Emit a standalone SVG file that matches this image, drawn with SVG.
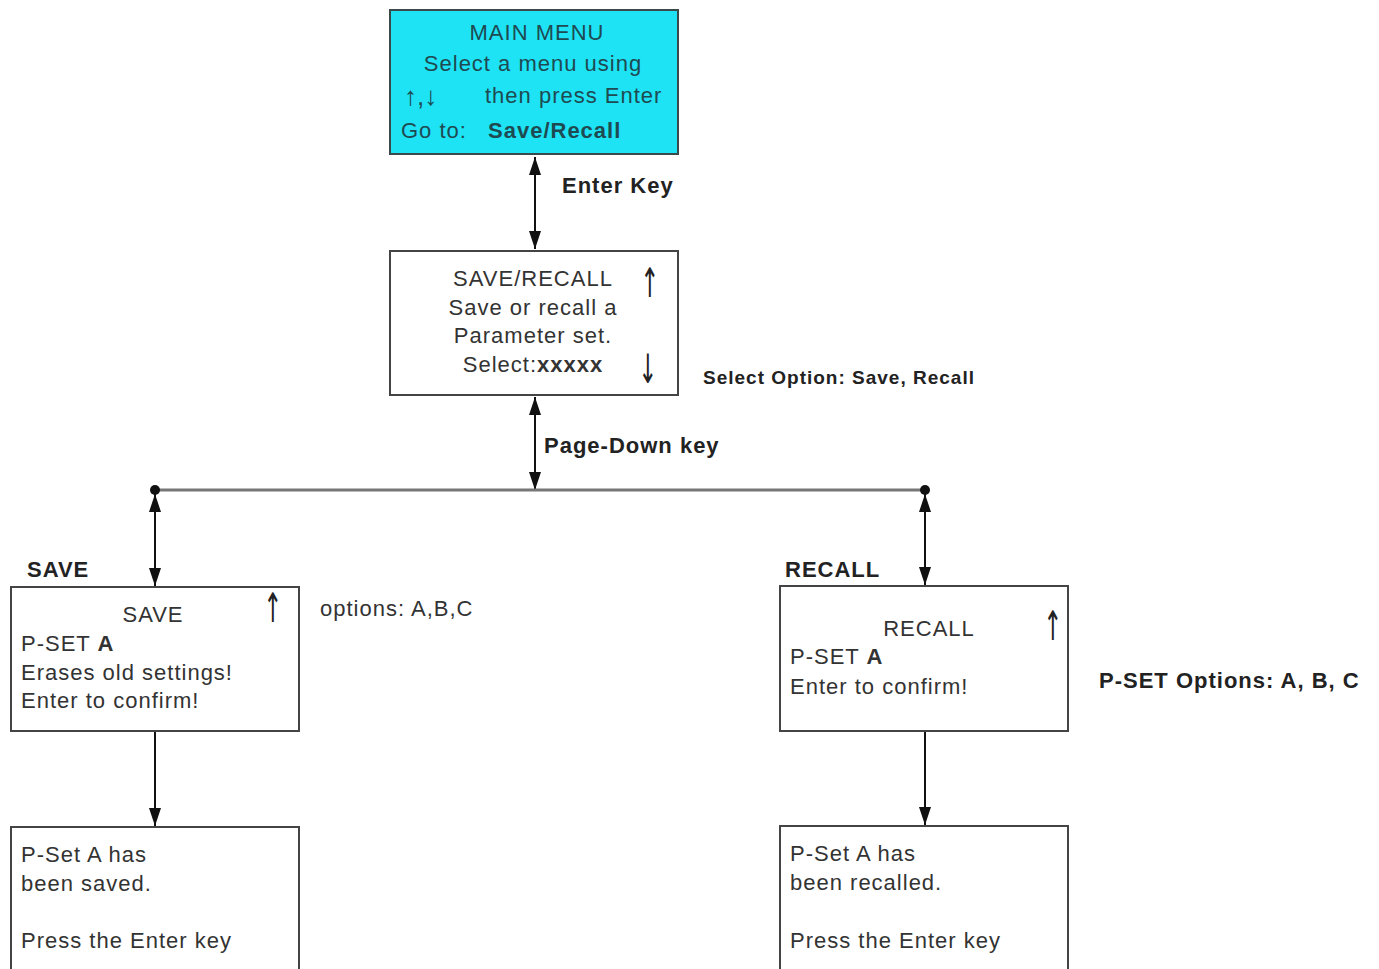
<svg xmlns="http://www.w3.org/2000/svg" width="1379" height="969" viewBox="0 0 1379 969">
<defs>
<style>
text{font-family:"Liberation Sans",Arial,sans-serif;font-size:22px;letter-spacing:1px;fill:#333}
.b{font-weight:bold}
.lbl{font-weight:bold;fill:#222}
.box{fill:#fff;stroke:#444;stroke-width:2}
.cyan{fill:#1ee3f5;stroke:#3a4a4a;stroke-width:2}
.mm{fill:#1e4a52}
.arr{font-family:"DejaVu Sans",sans-serif;font-size:30px;letter-spacing:0;fill:#222}
.c{stroke:#111;stroke-width:2;fill:none}
</style>
<marker id="ah" viewBox="0 0 18 12" refX="18" refY="6" markerWidth="18" markerHeight="12" markerUnits="userSpaceOnUse" orient="auto-start-reverse">
<path d="M0,0 L18,6 L0,12 z" fill="#111"/>
</marker>
</defs>
<rect width="1379" height="969" fill="#fff"/>

<g id="connectors">
<line class="c" x1="535" y1="157" x2="535" y2="249" marker-start="url(#ah)" marker-end="url(#ah)"/>
<line class="c" x1="535" y1="397" x2="535" y2="490" marker-start="url(#ah)" marker-end="url(#ah)"/>
<line x1="155" y1="490" x2="925" y2="490" stroke="#777" stroke-width="3"/>
<circle cx="155" cy="490" r="5" fill="#111"/>
<circle cx="925" cy="490" r="5" fill="#111"/>
<line class="c" x1="155" y1="494" x2="155" y2="586" marker-start="url(#ah)" marker-end="url(#ah)"/>
<line class="c" x1="925" y1="494" x2="925" y2="585" marker-start="url(#ah)" marker-end="url(#ah)"/>
<line class="c" x1="155" y1="732" x2="155" y2="826" marker-end="url(#ah)"/>
<line class="c" x1="925" y1="732" x2="925" y2="825" marker-end="url(#ah)"/>
<text class="lbl" x="562" y="193">Enter Key</text>
<text class="lbl" x="544" y="453">Page-Down key</text>
</g>

<g id="main-menu">
<rect class="cyan" x="390" y="10" width="288" height="144"/>
<text class="mm" x="537" y="40" text-anchor="middle">MAIN MENU</text>
<text class="mm" x="533" y="71" text-anchor="middle">Select a menu using</text>
<text class="mm" x="404" y="105" style="font-size:26px;letter-spacing:0">↑,↓</text>
<text class="mm" x="485" y="103">then press Enter</text>
<text class="mm" x="401" y="138">Go to:</text>
<text class="mm b" x="488" y="138">Save/Recall</text>
</g>

<g id="save-recall">
<rect class="box" x="390" y="251" width="288" height="144"/>
<text x="533" y="286" text-anchor="middle">SAVE/RECALL</text>
<text x="533" y="315" text-anchor="middle">Save or recall a</text>
<text x="533" y="343" text-anchor="middle">Parameter set.</text>
<text x="533" y="372" text-anchor="middle">Select:<tspan class="b">xxxxx</tspan></text>
<text class="arr" transform="translate(650,297) scale(0.75,1.35)" text-anchor="middle">↑</text>
<text class="arr" transform="translate(648,383) scale(0.75,1.35)" text-anchor="middle">↓</text>
<text class="lbl" x="703" y="384" style="font-size:19px">Select Option: Save, Recall</text>
</g>

<g id="save">
<text class="lbl" x="27" y="577">SAVE</text>
<rect class="box" x="11" y="587" width="288" height="144"/>
<text x="153" y="622" text-anchor="middle">SAVE</text>
<text class="arr" transform="translate(273,622) scale(0.75,1.35)" text-anchor="middle">↑</text>
<text x="21" y="651">P-SET <tspan class="b">A</tspan></text>
<text x="21" y="680">Erases old settings!</text>
<text x="21" y="708">Enter to confirm!</text>
<text x="320" y="616">options: A,B,C</text>
</g>

<g id="recall">
<text class="lbl" x="785" y="577">RECALL</text>
<rect class="box" x="780" y="586" width="288" height="145"/>
<text x="929" y="636" text-anchor="middle">RECALL</text>
<text class="arr" transform="translate(1053,640) scale(0.75,1.35)" text-anchor="middle">↑</text>
<text x="790" y="664">P-SET <tspan class="b">A</tspan></text>
<text x="790" y="694">Enter to confirm!</text>
<text class="lbl" x="1099" y="688">P-SET Options: A, B, C</text>
</g>

<g id="saved">
<rect class="box" x="11" y="827" width="288" height="160"/>
<text x="21" y="862">P-Set A has</text>
<text x="21" y="891">been saved.</text>
<text x="21" y="948">Press the Enter key</text>
</g>

<g id="recalled">
<rect class="box" x="780" y="826" width="288" height="160"/>
<text x="790" y="861">P-Set A has</text>
<text x="790" y="890">been recalled.</text>
<text x="790" y="948">Press the Enter key</text>
</g>
</svg>
